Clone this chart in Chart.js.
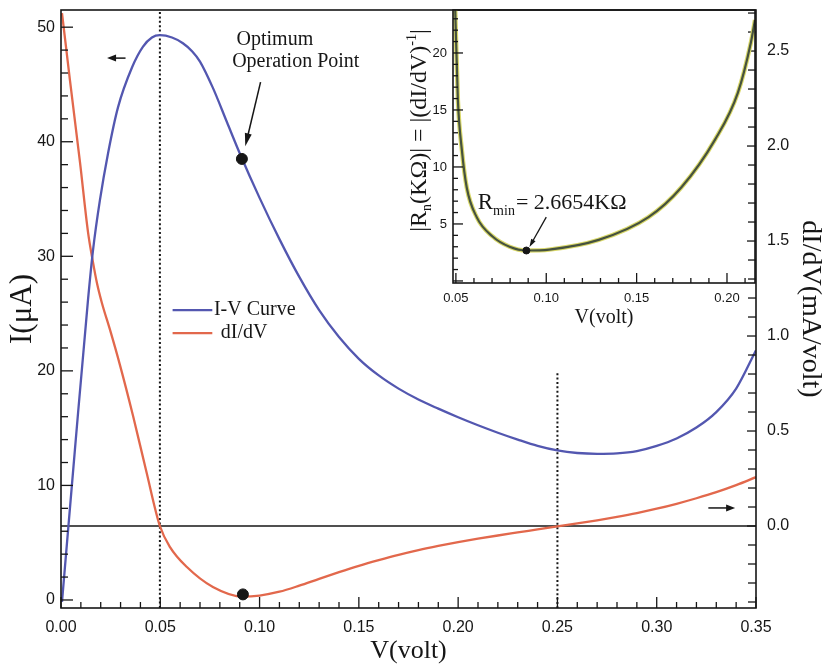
<!DOCTYPE html>
<html>
<head>
<meta charset="utf-8">
<script src="https://cdn.jsdelivr.net/npm/chart.js@4.4.0/dist/chart.umd.min.js"></script>
<style>
  body { margin: 0; background: #fff; }
  #wrap { position: relative; width: 829px; height: 671px; overflow: hidden; }
  #main_chart { position: absolute; left: 0; top: 0; }
  #inset_chart { position: absolute; left: 395px; top: 0; }
</style>
</head>
<body>
<div id="wrap">
  <canvas id="main_chart" width="829" height="671"></canvas>
  <canvas id="inset_chart" width="365" height="340"></canvas>
</div>
<script>
// I-V curve (left axis, µA)
const iv_volt = [0.0005, 0.007, 0.0136, 0.0161, 0.0196, 0.0237, 0.0287, 0.0358, 0.0413, 0.0458, 0.0498, 0.0559, 0.0614, 0.066, 0.07, 0.0765, 0.0836, 0.09, 0.10, 0.11, 0.12, 0.13, 0.14, 0.15, 0.16, 0.17, 0.18, 0.19, 0.20, 0.21, 0.22, 0.23, 0.24, 0.25, 0.26, 0.27, 0.28, 0.29, 0.30, 0.31, 0.32, 0.33, 0.34, 0.35];
const iv_current = [-0.17, 13.1, 26.2, 30.5, 34.9, 39.0, 43.0, 46.5, 48.3, 49.1, 49.3, 49.1, 48.6, 47.9, 47.0, 44.7, 41.7, 39.0, 35.1, 31.5, 28.2, 25.3, 22.95, 21.05, 19.6, 18.45, 17.5, 16.7, 15.95, 15.25, 14.6, 14.0, 13.45, 13.05, 12.83, 12.76, 12.8, 13.0, 13.45, 14.1, 15.05, 16.4, 18.45, 21.8];

// dI/dV curve (right axis, mA/volt)
const slope_volt = [0.0005, 0.0045, 0.0096, 0.0136, 0.0161, 0.0181, 0.0206, 0.0247, 0.0297, 0.0363, 0.0428, 0.0498, 0.0549, 0.0634, 0.0765, 0.0916, 0.10, 0.11, 0.12, 0.13, 0.14, 0.15, 0.16, 0.17, 0.18, 0.19, 0.20, 0.21, 0.22, 0.23, 0.24, 0.25, 0.26, 0.27, 0.28, 0.29, 0.30, 0.31, 0.32, 0.33, 0.34, 0.35];
const slope_value = [2.70, 2.347, 1.911, 1.547, 1.389, 1.279, 1.174, 1.032, 0.847, 0.579, 0.295, 0.0, -0.111, -0.216, -0.321, -0.372, -0.366, -0.346, -0.314, -0.278, -0.243, -0.210, -0.180, -0.152, -0.127, -0.105, -0.085, -0.067, -0.050, -0.034, -0.018, -0.002, 0.014, 0.030, 0.048, 0.068, 0.091, 0.117, 0.146, 0.178, 0.215, 0.257];

// inset |Rn| (kOhm)
const rn_volt = [0.0495, 0.0511, 0.0533, 0.056, 0.0615, 0.0703, 0.0797, 0.089, 0.1016, 0.129, 0.1566, 0.1747, 0.1934, 0.206, 0.2132, 0.2155];
const rn_value = [24.5, 15.9, 11.5, 8.2, 5.6, 3.9, 3.0, 2.67, 2.75, 3.6, 5.6, 8.2, 12.4, 16.5, 20.9, 22.9];

// marked points and reference lines
const optimum_volt = 0.0911;
const optimum_current = 38.5;
const slope_min_volt = 0.0916;
const slope_min_value = -0.36;
const rn_min_volt = 0.089;
const rn_min_value = 2.67;
const peak_volt = 0.0498;
const valley_volt = 0.25;
const valley_line_top = 19.8;

// tick labels
const volt_ticks = [0, 0.05, 0.1, 0.15, 0.2, 0.25, 0.3, 0.35];
const current_ticks = [0, 10, 20, 30, 40, 50];
const slope_ticks = [0, 0.5, 1.0, 1.5, 2.0, 2.5];
const inset_volt_ticks = [0.05, 0.1, 0.15, 0.2];
const inset_rn_ticks = [5, 10, 15, 20];

const blue = "#5357b0";
const red = "#e2684c";
const ink = "#161616";
const sans = "Liberation Sans";
const serif = "Liberation Serif";

const to_points = (xs, ys) => xs.map((x, i) => ({ x: x, y: ys[i] }));

// keep the plot box exactly where the axis widths put it
const fit_width = (w) => (s) => { s.width = w; s.paddingTop = 0; s.paddingBottom = 0; };
const fit_height = (h) => (s) => { s.height = h; s.paddingLeft = 0; s.paddingRight = 0; };

// axis box + inward ticks
const frame_plugin = {
  id: "frame",
  afterDatasetsDraw(chart, args, opts) {
    const { ctx, chartArea: a } = chart;
    ctx.save();
    ctx.strokeStyle = ink;
    ctx.lineWidth = 1.6;
    ctx.strokeRect(a.left, a.top, a.right - a.left, a.bottom - a.top);
    ctx.lineWidth = 1.3;
    (opts.ticks || []).forEach((t) => {
      const scale = chart.scales[t.axis];
      const first = Math.ceil(scale.min / t.step - 1e-6);
      const last = Math.floor(scale.max / t.step + 1e-6);
      for (let n = first; n <= last; n++) {
        const p = scale.getPixelForValue(n * t.step);
        const len = n % t.every === 0 ? t.major : t.minor;
        ctx.beginPath();
        if (t.edge === "bottom") {
          ctx.moveTo(p, a.bottom);
          ctx.lineTo(p, a.bottom - len);
        } else if (t.edge === "left") {
          ctx.moveTo(a.left, p);
          ctx.lineTo(a.left + len, p);
        } else {
          ctx.moveTo(a.right, p);
          ctx.lineTo(a.right - len, p);
        }
        ctx.stroke();
      }
    });
    ctx.restore();
  },
};

const draw_arrow = (ctx, x1, y1, x2, y2, head, wide) => {
  const ang = Math.atan2(y2 - y1, x2 - x1);
  ctx.beginPath();
  ctx.moveTo(x1, y1);
  ctx.lineTo(x2 - Math.cos(ang) * head * 0.6, y2 - Math.sin(ang) * head * 0.6);
  ctx.stroke();
  ctx.beginPath();
  ctx.moveTo(x2, y2);
  ctx.lineTo(x2 - Math.cos(ang) * head + Math.sin(ang) * wide, y2 - Math.sin(ang) * head - Math.cos(ang) * wide);
  ctx.lineTo(x2 - Math.cos(ang) * head - Math.sin(ang) * wide, y2 - Math.sin(ang) * head + Math.cos(ang) * wide);
  ctx.closePath();
  ctx.fill();
};

// text, arrows and legend of the main plot
const notes_plugin = {
  id: "notes",
  afterDatasetsDraw(chart) {
    const { ctx } = chart;
    const sx = chart.scales.x;
    const sy = chart.scales.y;
    const sy2 = chart.scales.y2;
    const px = (v) => sx.getPixelForValue(v);
    const py = (v) => sy.getPixelForValue(v);
    ctx.save();
    ctx.fillStyle = ink;
    ctx.strokeStyle = ink;
    ctx.lineWidth = 1.5;
    ctx.textBaseline = "middle";
    ctx.textAlign = "left";
    ctx.font = `20px "${serif}"`;
    ctx.fillText("Optimum", px(0.0884), py(48.9));
    ctx.fillText("Operation Point", px(0.0862), py(47.0));
    draw_arrow(ctx, px(0.1005), py(45.2), px(0.0928), py(39.6), 13, 3.5);
    // axis direction arrows
    draw_arrow(ctx, px(0.0325), py(47.3), px(0.0232), py(47.3), 9, 3.5);
    draw_arrow(ctx, px(0.326), sy2.getPixelForValue(0.095), px(0.3395), sy2.getPixelForValue(0.095), 9, 3.5);
    // legend
    const items = [
      { label: "I-V Curve", color: blue, y: 25.3, tx: 0.0770 },
      { label: "dI/dV", color: red, y: 23.3, tx: 0.0805 },
    ];
    items.forEach((it) => {
      ctx.strokeStyle = it.color;
      ctx.lineWidth = 2.2;
      ctx.beginPath();
      ctx.moveTo(px(0.0562), py(it.y));
      ctx.lineTo(px(0.0762), py(it.y));
      ctx.stroke();
      ctx.fillText(it.label, px(it.tx), py(it.y));
    });
    ctx.restore();
  },
};

// rich rotated label and R_min note of the inset
const inset_notes_plugin = {
  id: "inset_notes",
  afterDatasetsDraw(chart) {
    const { ctx } = chart;
    const sx = chart.scales.x;
    const sy = chart.scales.y;
    const px = (v) => sx.getPixelForValue(v);
    const py = (v) => sy.getPixelForValue(v);
    ctx.save();
    ctx.fillStyle = ink;
    ctx.strokeStyle = ink;
    ctx.textBaseline = "alphabetic";
    ctx.textAlign = "left";

    // R_min = 2.6654 KΩ
    let x = px(0.0621);
    const base = py(6.3);
    ctx.font = `23px "${serif}"`;
    ctx.fillText("R", x, base);
    x += ctx.measureText("R").width;
    ctx.font = `14px "${serif}"`;
    ctx.fillText("min", x, base + 6);
    x += ctx.measureText("min").width + 1;
    ctx.font = `22px "${serif}"`;
    ctx.fillText("= 2.6654KΩ", x, base);
    ctx.lineWidth = 1.3;
    draw_arrow(ctx, px(0.1), py(5.6), px(0.0907), py(2.98), 8, 2.5);

    // |Rn(KΩ)| = |(dI/dV)^-1|
    const runs = [
      { t: "|R", size: 24, dy: 0 },
      { t: "n", size: 14, dy: 5 },
      { t: "(KΩ)| = |(dI/dV)", size: 24, dy: 0 },
      { t: "-1", size: 14, dy: -10 },
      { t: "|", size: 24, dy: 0 },
    ];
    let total = 0;
    runs.forEach((r) => {
      ctx.font = `${r.size}px "${serif}"`;
      r.w = ctx.measureText(r.t).width;
      total += r.w;
    });
    ctx.translate(chart.chartArea.left - 27, py(13.2));
    ctx.rotate(-Math.PI / 2);
    let cx = -total / 2;
    runs.forEach((r) => {
      ctx.font = `${r.size}px "${serif}"`;
      ctx.fillText(r.t, cx, r.dy);
      cx += r.w;
    });
    ctx.restore();
  },
};

const main_ctx = document.getElementById("main_chart").getContext("2d");
const main_chart = new Chart(main_ctx, {
  type: "line",
  data: {
    datasets: [
      {
        label: "I-V Curve",
        data: to_points(iv_volt, iv_current),
        yAxisID: "y",
        borderColor: blue,
        borderWidth: 2.3,
        pointRadius: 0,
        cubicInterpolationMode: "monotone",
        order: 2,
      },
      {
        label: "dI/dV",
        data: to_points(slope_volt, slope_value),
        yAxisID: "y2",
        borderColor: red,
        borderWidth: 2.3,
        pointRadius: 0,
        cubicInterpolationMode: "monotone",
        order: 2,
      },
      {
        label: "zero",
        data: to_points([0, 0.35], [0, 0]),
        yAxisID: "y2",
        borderColor: ink,
        borderWidth: 1.6,
        pointRadius: 0,
        order: 3,
      },
      {
        label: "peak line",
        data: to_points([peak_volt, peak_volt], [-0.7, 51.5]),
        yAxisID: "y",
        borderColor: ink,
        borderWidth: 2,
        borderDash: [2, 2.4],
        pointRadius: 0,
        order: 4,
      },
      {
        label: "valley line",
        data: to_points([valley_volt, valley_volt], [valley_line_top, -0.7]),
        yAxisID: "y",
        borderColor: ink,
        borderWidth: 2,
        borderDash: [2, 2.4],
        pointRadius: 0,
        order: 4,
      },
      {
        label: "optimum",
        data: to_points([optimum_volt], [optimum_current]),
        yAxisID: "y",
        showLine: false,
        pointRadius: 5.5,
        pointBackgroundColor: ink,
        pointBorderColor: ink,
        order: 1,
      },
      {
        label: "slope min",
        data: to_points([slope_min_volt], [slope_min_value]),
        yAxisID: "y2",
        showLine: false,
        pointRadius: 5.5,
        pointBackgroundColor: ink,
        pointBorderColor: ink,
        order: 1,
      },
    ],
  },
  options: {
    responsive: false,
    animation: false,
    events: [],
    layout: { padding: { top: 10, left: 0, right: 0, bottom: 0 } },
    plugins: {
      legend: { display: false },
      tooltip: { enabled: false },
      frame: {
        ticks: [
          { axis: "x", edge: "bottom", step: 0.01, every: 5, major: 11, minor: 6 },
          { axis: "y", edge: "left", step: 2, every: 5, major: 12, minor: 7 },
          { axis: "y2", edge: "right", step: 0.1, every: 5, major: 9, minor: 8 },
        ],
      },
    },
    scales: {
      x: {
        type: "linear",
        min: 0,
        max: 0.35,
        afterFit: fit_height(63),
        afterBuildTicks: (s) => { s.ticks = volt_ticks.map((v) => ({ value: v })); },
        grid: { display: false, drawTicks: false },
        border: { display: false },
        ticks: {
          padding: 10,
          color: ink,
          maxRotation: 0,
          autoSkip: false,
          font: { family: sans, size: 16 },
          callback: (v) => Number(v).toFixed(2),
        },
        title: {
          display: true,
          text: "V(volt)",
          color: ink,
          font: { family: serif, size: 26 },
          padding: { top: 0, bottom: 4 },
        },
      },
      y: {
        position: "left",
        min: -0.7,
        max: 51.5,
        afterFit: fit_width(61),
        afterBuildTicks: (s) => { s.ticks = current_ticks.map((v) => ({ value: v })); },
        grid: { display: false, drawTicks: false },
        border: { display: false },
        ticks: {
          padding: 6,
          color: ink,
          font: { family: sans, size: 16 },
          callback: (v) => String(v),
        },
        title: {
          display: true,
          text: "I(μA)",
          color: ink,
          font: { family: serif, size: 31 },
          padding: { top: 4, bottom: 0 },
        },
      },
      y2: {
        position: "right",
        min: -0.4316,
        max: 2.716,
        afterFit: fit_width(73),
        afterBuildTicks: (s) => { s.ticks = slope_ticks.map((v) => ({ value: v })); },
        grid: { display: false, drawTicks: false },
        border: { display: false },
        ticks: {
          padding: 11,
          color: ink,
          font: { family: sans, size: 16 },
          callback: (v) => Number(v).toFixed(1),
        },
        title: {
          display: true,
          text: "dI/dV(mA/volt)",
          color: ink,
          font: { family: serif, size: 28 },
          padding: { top: 2, bottom: 0 },
        },
      },
    },
  },
  plugins: [frame_plugin, notes_plugin],
});

const inset_ctx = document.getElementById("inset_chart").getContext("2d");
const inset_chart = new Chart(inset_ctx, {
  type: "line",
  data: {
    datasets: [
      {
        label: "Rn glow",
        data: to_points(rn_volt, rn_value),
        borderColor: "#d9d86a",
        borderWidth: 4.4,
        pointRadius: 0,
        cubicInterpolationMode: "monotone",
        order: 3,
      },
      {
        label: "|Rn|",
        data: to_points(rn_volt, rn_value),
        borderColor: "#46523e",
        borderWidth: 2.2,
        pointRadius: 0,
        cubicInterpolationMode: "monotone",
        order: 2,
      },
      {
        label: "Rmin",
        data: to_points([rn_min_volt], [rn_min_value]),
        showLine: false,
        pointRadius: 3.5,
        pointBackgroundColor: ink,
        pointBorderColor: ink,
        order: 1,
      },
    ],
  },
  options: {
    responsive: false,
    animation: false,
    events: [],
    layout: { padding: { top: 10, left: 0, right: 3, bottom: 0 } },
    plugins: {
      legend: { display: false },
      tooltip: { enabled: false },
      frame: {
        ticks: [
          { axis: "x", edge: "bottom", step: 0.01, every: 5, major: 10, minor: 5 },
          { axis: "y", edge: "left", step: 1, every: 5, major: 10, minor: 5 },
        ],
      },
    },
    scales: {
      x: {
        type: "linear",
        min: 0.0484,
        max: 0.2155,
        afterFit: fit_height(57),
        afterBuildTicks: (s) => { s.ticks = inset_volt_ticks.map((v) => ({ value: v })); },
        grid: { display: false, drawTicks: false },
        border: { display: false },
        ticks: {
          padding: 8,
          color: ink,
          maxRotation: 0,
          autoSkip: false,
          font: { family: sans, size: 13 },
          callback: (v) => Number(v).toFixed(2),
        },
        title: {
          display: true,
          text: "V(volt)",
          color: ink,
          font: { family: serif, size: 20 },
          padding: { top: 0, bottom: 10 },
        },
      },
      y: {
        position: "left",
        min: -0.18,
        max: 23.77,
        afterFit: fit_width(58),
        afterBuildTicks: (s) => { s.ticks = inset_rn_ticks.map((v) => ({ value: v })); },
        grid: { display: false, drawTicks: false },
        border: { display: false },
        ticks: {
          padding: 6,
          color: ink,
          font: { family: sans, size: 13 },
          callback: (v) => String(v),
        },
      },
    },
  },
  plugins: [frame_plugin, inset_notes_plugin],
});
</script>
</body>
</html>
